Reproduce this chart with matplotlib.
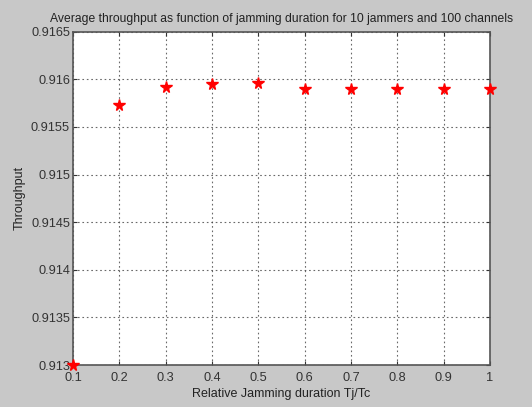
import matplotlib.pyplot as plt
import numpy as np

# ==== DATI ====
jam_duration = [0.1, 0.2, 0.3, 0.4, 0.5, 0.6, 0.7, 0.8, 0.9, 1.0]
throughput = [0.91300, 0.91573, 0.91592, 0.91595, 0.91596,
              0.91590, 0.91590, 0.91590, 0.91590, 0.91590]

x_ticks = [0.1, 0.2, 0.3, 0.4, 0.5, 0.6, 0.7, 0.8, 0.9, 1]
x_labels = ["0.1", "0.2", "0.3", "0.4", "0.5", "0.6", "0.7", "0.8", "0.9", "1"]
y_ticks = [0.913, 0.9135, 0.914, 0.9145, 0.915, 0.9155, 0.916, 0.9165]
y_labels = ["0.913", "0.9135", "0.914", "0.9145", "0.915", "0.9155", "0.916", "0.9165"]

plt.rcParams['font.family'] = ['Liberation Sans', 'DejaVu Sans']

fig = plt.figure(figsize=(5.32, 4.07), dpi=100, facecolor="#c8c8c8")
ax = fig.add_axes([0.137, 0.103, 0.784, 0.819])
ax.set_facecolor("white")

ax.plot(jam_duration, throughput, linestyle="none", marker="*",
        markersize=8.5, color="red", markeredgecolor="red", clip_on=False, zorder=5)

ax.set_xlim(0.1, 1)
ax.set_ylim(0.913, 0.9165)
ax.set_xticks(x_ticks)
ax.set_xticklabels(x_labels)
ax.set_yticks(y_ticks)
ax.set_yticklabels(y_labels)

ax.grid(True, color="#444444", linestyle=(0, (1.5, 2.5)), linewidth=0.8, alpha=0.8)
ax.tick_params(axis="both", labelsize=9.2, colors="#333333", length=3, direction="in",
               top=True, right=True)
ax.tick_params(axis="y", pad=2)
ax.tick_params(axis="x", pad=5)
for s in ax.spines.values():
    s.set_color("#555555")
    s.set_linewidth(1.2)

ax.set_xlabel("Relative Jamming duration Tj/Tc", fontsize=9, color="#222222", labelpad=3)
ax.set_ylabel("Throughput", fontsize=9, color="#222222", labelpad=4)
ax.set_title("Average throughput as function of jamming duration for 10 jammers and 100 channels",
             fontsize=8.7, color="#222222", pad=7)

fig.savefig("out.png", dpi=100, facecolor=fig.get_facecolor())
